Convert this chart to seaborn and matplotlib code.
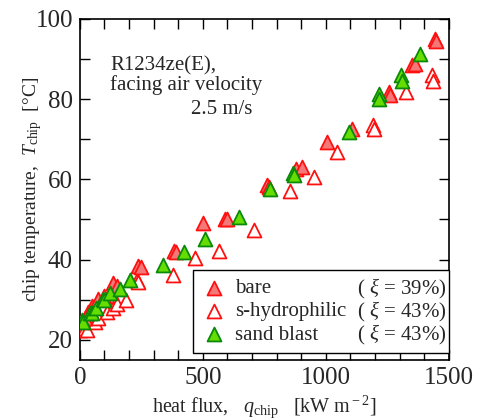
import matplotlib
matplotlib.use("Agg")
import matplotlib.pyplot as plt
import seaborn as sns
from matplotlib.ticker import MultipleLocator

# heat flux [kW/m2] and chip temperature [degC]
bare_q = [5, 20, 33, 50, 73, 100, 134, 150, 236, 248, 382, 392, 500, 589, 598,
          760, 768, 880, 902, 1003, 1105, 1256, 1262, 1350, 1362, 1443, 1450]
bare_T = [24.5, 25.5, 27, 28.5, 30.2, 31, 34.2, 33.5, 38.5, 38.2, 42.2, 42, 49, 50.2, 50,
          58.7, 58.2, 62.5, 63.2, 69.2, 72.5, 81.7, 81, 88.5, 88.7, 95, 94.5]

hydro_q = [0, 20, 28, 61, 75, 110, 134, 150, 187, 231, 236, 378, 467, 565, 707,
           854, 951, 1044, 1190, 1195, 1325, 1431, 1435]
hydro_T = [22.5, 23, 22.5, 24.5, 25.5, 27, 28, 29, 30, 35, 34.5, 36.2, 40.5, 42.2, 47.5,
           57, 60.5, 66.7, 73.5, 72.5, 81.7, 86, 84.5]

sand_q = [8, 12, 41, 49, 65, 94, 98, 122, 163, 203, 337, 423, 508, 646, 772,
          866, 870, 1094, 1215, 1218, 1305, 1308, 1382]
sand_T = [25, 24.5, 26.7, 26.7, 28, 30.2, 30, 31.7, 32.7, 35, 38.7, 42, 45.2, 50.5, 57.5,
          61.5, 61, 71.7, 81.2, 80, 86, 84.5, 91.2]

labels = ["bare", "s-hydrophilic", "sand blast"]
xi_text = [r"( $\xi$ = 39%)", r"( $\xi$ = 43%)", r"( $\xi$ = 43%)"]

sns.set_style("ticks")
plt.rcParams["font.family"] = ["Liberation Serif", "DejaVu Serif"]
plt.rcParams["mathtext.fontset"] = "custom"
plt.rcParams["mathtext.rm"] = "Liberation Serif"
plt.rcParams["mathtext.it"] = "Liberation Serif:italic"

fig = plt.figure(figsize=(4.81, 4.19), dpi=100)
ax = fig.add_axes([0.166, 0.141, 0.767, 0.814])

ms = 100
sns.scatterplot(x=hydro_q, y=hydro_T, marker="^", s=ms, facecolor="white",
                edgecolor="#ff1010", linewidth=1.3, ax=ax, label=labels[1], zorder=3)
sns.scatterplot(x=bare_q, y=bare_T, marker="^", s=ms, color="#f47878",
                edgecolor="#ff1010", linewidth=1.3, ax=ax, label=labels[0], zorder=4)
sns.scatterplot(x=sand_q, y=sand_T, marker="^", s=ms, color="#66dd00",
                edgecolor="#0a8a0a", linewidth=1.3, ax=ax, label=labels[2], zorder=5)

ax.set_xlim(0, 1500)
ax.set_ylim(15, 100)
ax.xaxis.set_major_locator(MultipleLocator(500))
ax.xaxis.set_minor_locator(MultipleLocator(100))
ax.yaxis.set_major_locator(MultipleLocator(20))
ax.yaxis.set_minor_locator(MultipleLocator(10))
ax.tick_params(which="both", direction="in", top=True, right=True, length=7,
               width=1, labelsize=18, color="black")
ax.tick_params(axis="x", pad=5)
ax.tick_params(axis="y", pad=5)
for s in ax.spines.values():
    s.set_linewidth(1.2)
    s.set_color("black")

ax.set_xlabel(r"heat flux,   $q_{\rm chip}$   [kW m$^{\rm -2}$]", fontsize=14.5, labelpad=3)
ax.set_ylabel(r"chip temperature,  $T_{\rm chip}$  [°C]", fontsize=14, labelpad=-6)

ax.text(0.083, 0.833, "R1234ze(E),\nfacing air velocity", transform=ax.transAxes,
        fontsize=15, va="center", ha="left", linespacing=1.0)
ax.text(0.30, 0.735, "2.5 m/s", transform=ax.transAxes, fontsize=15,
        va="center", ha="left")

h, l = ax.get_legend_handles_labels()
order = [l.index(n) for n in labels]
leg = ax.legend([h[i] for i in order], [l[i] for i in order], loc="lower left",
                bbox_to_anchor=(0.306, 0.02, 0.694, 0.247), mode="expand",
                borderaxespad=0, fontsize=15, frameon=True, fancybox=False,
                edgecolor="black", framealpha=1, handletextpad=0.45,
                handlelength=1.2, labelspacing=0.18, borderpad=0.4)
leg.get_frame().set_linewidth(1.0)

fig.canvas.draw()
inv = ax.transAxes.inverted()
frame = leg.get_frame().get_window_extent()
for t, s in zip(leg.get_texts(), xi_text):
    bb = t.get_window_extent()
    xr, yc = inv.transform((frame.x1 - 2, (bb.y0 + bb.y1) / 2))
    ax.text(xr, yc, s, transform=ax.transAxes, fontsize=15, ha="right",
            va="center", zorder=10)

fig.savefig("out.png", dpi=100)
